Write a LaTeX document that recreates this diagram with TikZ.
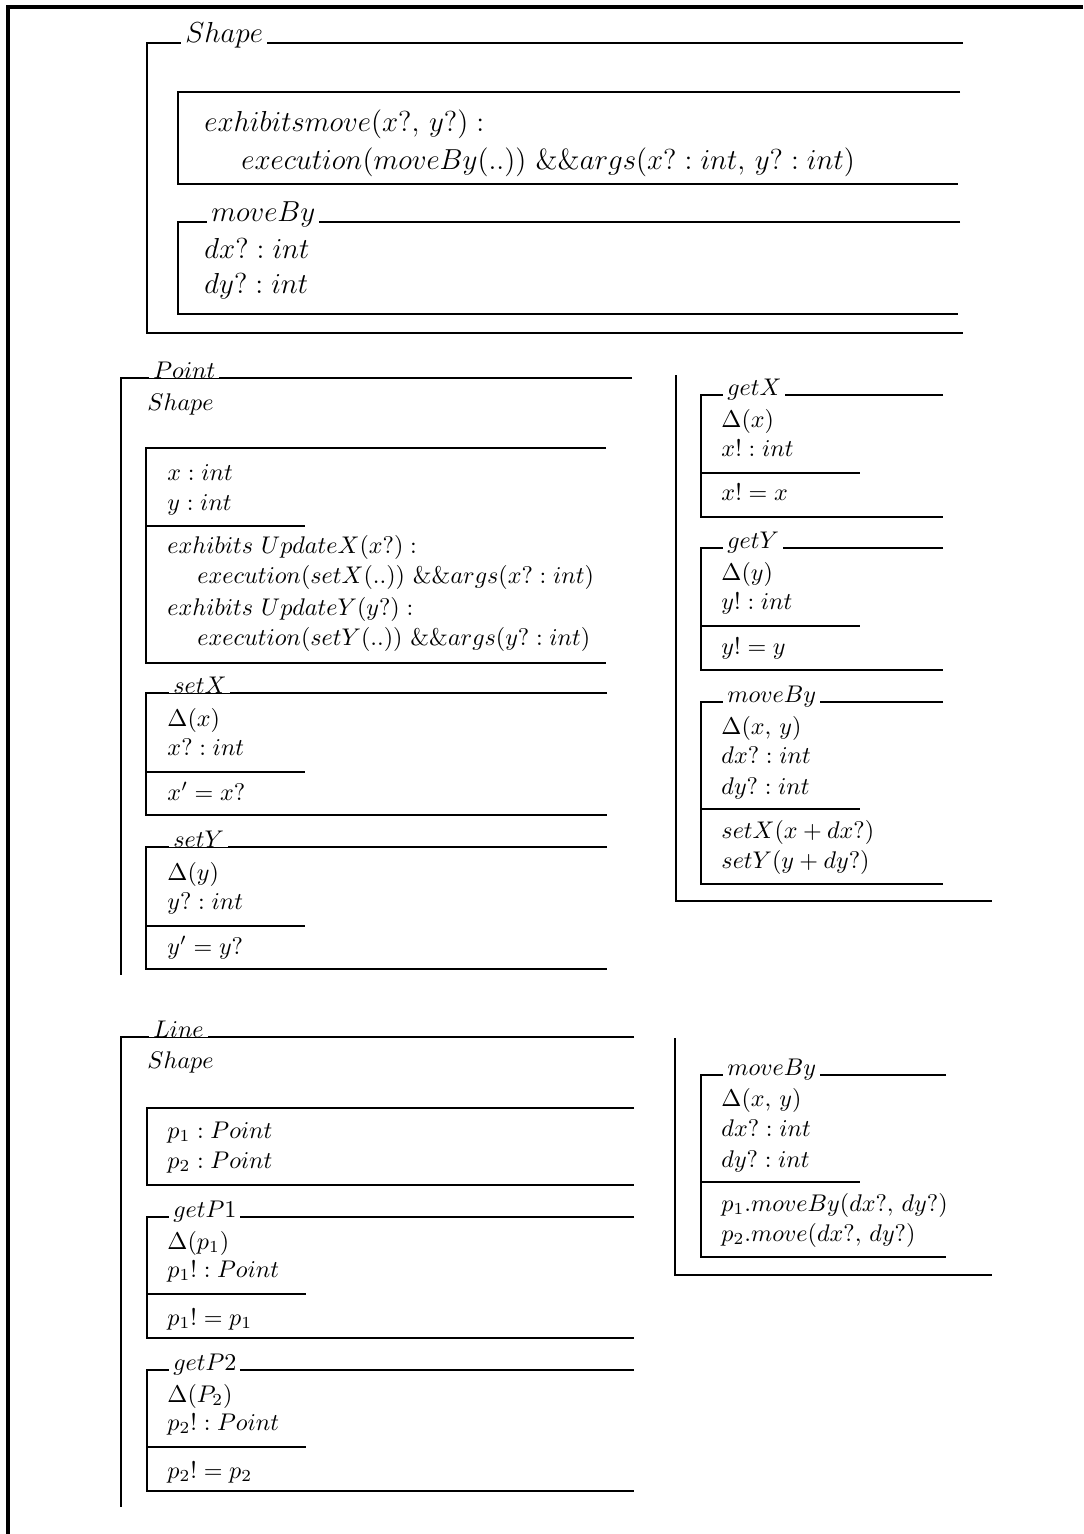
\RequirePackage{fix-cm}
\documentclass[tikz,border=0pt]{standalone}
\usepackage{xcolor}
\usepackage{tikz}

\tikzset{
  zline/.style={line width=0.8pt},
  zframe/.style={line width=1.25pt},
  ztext/.style={anchor=base west, inner sep=0pt},
  zname/.style={anchor=base west, fill=white, inner xsep=1.6pt, inner ysep=0pt},
  bigz/.style={font=\fontsize{12}{14.5}\selectfont}
}

\begin{document}
\begin{tikzpicture}[x=0.415pt, y=-0.415pt]
  \useasboundingbox (0,0) rectangle (1083,1534);
  % page frame
  \draw[zframe] (1083,7) -- (8,7) -- (8,1534);

  % Shape
  \draw[zline] (963,43) -- (147,43) -- (147,333) -- (963,333);
  \node[zname, bigz] (shapeName) at (181,43) {$Shape$};
  \draw[zline] (960,92) -- (178,92) -- (178,184) -- (958,184);
  \node[ztext, bigz] (shapeExhibits) at (204,132) {$exhibits move(x?,\, y?) :$};
  \node[ztext, bigz] (shapeExec) at (241,170) {$execution(moveBy(..))\ \&\&args(x? : int,\, y? : int)$};
  \draw[zline] (960,222) -- (178,222) -- (178,314) -- (958,314);
  \node[zname, bigz] (shapeMoveBy) at (207,222) {$moveBy$};
  \node[ztext, bigz] (shapeDx) at (204,258) {$dx? : int$};
  \node[ztext, bigz] (shapeDy) at (204,293) {$dy? : int$};

  % Point, left column
  \draw[zline] (632,378) -- (121,378) -- (121,975);
  \node[zname] (pointName) at (149,378) {$Point$};
  \node[ztext] (pointShape) at (147,410) {$Shape$};
  \draw[zline] (606,448) -- (146,448) -- (146,663) -- (606,663);
  \draw[zline] (146,526) -- (305,526);
  \node[ztext] (pointX) at (167,480) {$x : int$};
  \node[ztext] (pointY) at (167,510) {$y : int$};
  \node[ztext] (pointExhibitsX) at (167,553) {$exhibits\ UpdateX(x?) :$};
  \node[ztext] (pointExecX) at (197,583) {$execution(setX(..))\ \&\&args(x? : int)$};
  \node[ztext] (pointExhibitsY) at (167,615) {$exhibits\ UpdateY(y?) :$};
  \node[ztext] (pointExecY) at (197,645) {$execution(setY(..))\ \&\&args(y? : int)$};

  \draw[zline] (607,693) -- (146,693) -- (146,815) -- (607,815);
  \draw[zline] (146,772) -- (305,772);
  \node[zname] (setXName) at (169,693) {$setX$};
  \node[ztext] (setXDelta) at (167,726) {$\Delta(x)$};
  \node[ztext] (setXIn) at (167,755) {$x? : int$};
  \node[ztext] (setXPost) at (167,800) {$x' = x?$};

  \draw[zline] (607,847) -- (146,847) -- (146,969) -- (607,969);
  \draw[zline] (146,926) -- (305,926);
  \node[zname] (setYName) at (169,847) {$setY$};
  \node[ztext] (setYDelta) at (167,880) {$\Delta(y)$};
  \node[ztext] (setYIn) at (167,909) {$y? : int$};
  \node[ztext] (setYPost) at (167,954) {$y' = y?$};

  % Point, right column
  \draw[zline] (676,375) -- (676,901) -- (992,901);
  \draw[zline] (943,395) -- (701,395) -- (701,517) -- (943,517);
  \draw[zline] (701,473) -- (860,473);
  \node[zname] (getXName) at (723,395) {$getX$};
  \node[ztext] (getXDelta) at (721,427) {$\Delta(x)$};
  \node[ztext] (getXOut) at (721,456) {$x! : int$};
  \node[ztext] (getXPost) at (721,500) {$x! = x$};

  \draw[zline] (943,548) -- (701,548) -- (701,670) -- (943,670);
  \draw[zline] (701,626) -- (860,626);
  \node[zname] (getYName) at (723,548) {$getY$};
  \node[ztext] (getYDelta) at (721,580) {$\Delta(y)$};
  \node[ztext] (getYOut) at (721,609) {$y! : int$};
  \node[ztext] (getYPost) at (721,654) {$y! = y$};

  \draw[zline] (943,702) -- (701,702) -- (701,884) -- (943,884);
  \draw[zline] (701,809) -- (860,809);
  \node[zname] (pointMoveByName) at (723,702) {$moveBy$};
  \node[ztext] (pointMoveDelta) at (721,734) {$\Delta(x,\, y)$};
  \node[ztext] (pointMoveDx) at (721,763) {$dx? : int$};
  \node[ztext] (pointMoveDy) at (721,794) {$dy? : int$};
  \node[ztext] (pointMoveSetX) at (721,838) {$setX(x + dx?)$};
  \node[ztext] (pointMoveSetY) at (721,868) {$setY(y + dy?)$};

  % Line, left column
  \draw[zline] (634,1037) -- (121,1037) -- (121,1507);
  \node[zname] (lineName) at (149,1037) {$Line$};
  \node[ztext] (lineShape) at (147,1068) {$Shape$};
  \draw[zline] (634,1108) -- (147,1108) -- (147,1185) -- (634,1185);
  \node[ztext] (lineP1) at (167,1138) {$p_1 : Point$};
  \node[ztext] (lineP2) at (167,1168) {$p_2 : Point$};

  \draw[zline] (634,1217) -- (147,1217) -- (147,1338) -- (634,1338);
  \draw[zline] (147,1294) -- (306,1294);
  \node[zname] (getP1Name) at (169,1217) {$getP1$};
  \node[ztext] (getP1Delta) at (167,1249) {$\Delta(p_1)$};
  \node[ztext] (getP1Out) at (167,1277) {$p_1! : Point$};
  \node[ztext] (getP1Post) at (167,1325) {$p_1! = p_1$};

  \draw[zline] (634,1370) -- (147,1370) -- (147,1491) -- (634,1491);
  \draw[zline] (147,1447) -- (306,1447);
  \node[zname] (getP2Name) at (169,1370) {$getP2$};
  \node[ztext] (getP2Delta) at (167,1402) {$\Delta(P_2)$};
  \node[ztext] (getP2Out) at (167,1430) {$p_2! : Point$};
  \node[ztext] (getP2Post) at (167,1478) {$p_2! = p_2$};

  % Line, right column
  \draw[zline] (675,1038) -- (675,1275) -- (992,1275);
  \draw[zline] (946,1075) -- (701,1075) -- (701,1257) -- (946,1257);
  \draw[zline] (701,1182) -- (860,1182);
  \node[zname] (lineMoveByName) at (723,1075) {$moveBy$};
  \node[ztext] (lineMoveDelta) at (721,1106) {$\Delta(x,\, y)$};
  \node[ztext] (lineMoveDx) at (721,1136) {$dx? : int$};
  \node[ztext] (lineMoveDy) at (721,1167) {$dy? : int$};
  \node[ztext] (lineMoveP1) at (721,1211) {$p_1.moveBy(dx?,\, dy?)$};
  \node[ztext] (lineMoveP2) at (721,1241) {$p_2.move(dx?,\, dy?)$};
\end{tikzpicture}
\end{document}
